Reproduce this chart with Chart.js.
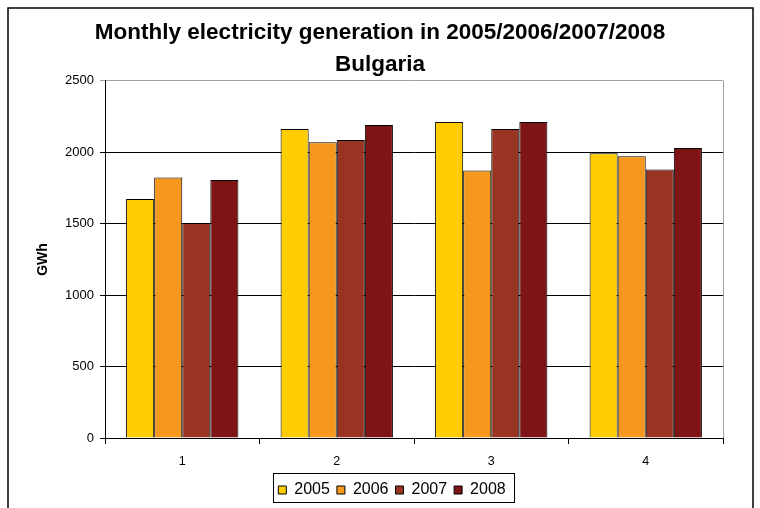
<!DOCTYPE html>
<html>
<head>
<meta charset="utf-8">
<script src="https://cdn.jsdelivr.net/npm/chart.js@4"></script>
<style>
  html, body { margin: 0; padding: 0; background: #fff; }
  #wrap { width: 760px; height: 508px; }
</style>
</head>
<body>
<div id="wrap"><canvas id="myChart" width="760" height="508"></canvas></div>
<script>
const months = ['1', '2', '3', '4'];
const gen2005 = [1674, 2164, 2213, 1994];
const gen2006 = [1823, 2071, 1872, 1973];
const gen2007 = [1506, 2087, 2164, 1879];
const gen2008 = [1807, 2192, 2213, 2031];

const FONT = 'Liberation Sans, Arial, sans-serif';

const frame = {
  id: 'frame',
  afterLayout(chart) {
    // legend box sits a bit right of centre in the original
    chart.legend.left += 12;
    chart.legend.right += 12;
  },
  beforeDraw(chart) {
    const c = chart.ctx;
    c.save();
    c.fillStyle = '#fff';
    c.fillRect(0, 0, chart.width, chart.height);
    c.strokeStyle = '#000';
    c.lineWidth = 1.5;
    c.strokeRect(8, 8, 745, 520);
    c.restore();
  },
  beforeDatasetsDraw(chart) {
    const a = chart.chartArea;
    const c = chart.ctx;
    c.save();
    c.strokeStyle = '#a0a0a0';
    c.lineWidth = 1;
    c.beginPath();
    c.moveTo(Math.round(a.right) + 0.5, a.top);
    c.lineTo(Math.round(a.right) + 0.5, a.bottom);
    c.stroke();
    c.restore();
  },
  afterDraw(chart) {
    const boxes = chart.legend.legendHitBoxes;
    if (!boxes || !boxes.length) return;
    const l = Math.min(...boxes.map(b => b.left));
    const r = Math.max(...boxes.map(b => b.left + b.width));
    const t = Math.min(...boxes.map(b => b.top));
    const b2 = Math.max(...boxes.map(b => b.top + b.height));
    const c = chart.ctx;
    c.save();
    c.strokeStyle = '#000';
    c.lineWidth = 1;
    const x0 = Math.round(l - 5) + 0.5, y0 = Math.round(t - 9) + 0.5;
    const x1 = Math.round(r + 8) + 0.5, y1 = Math.round(b2 + 4) + 0.5;
    c.strokeRect(x0, y0, x1 - x0, y1 - y0);
    c.restore();
  }
};

new Chart(document.getElementById('myChart'), {
  type: 'bar',
  data: {
    labels: months,
    datasets: [
      { label: '2005', data: gen2005, backgroundColor: '#FFCC00' },
      { label: '2006', data: gen2006, backgroundColor: '#F7981E' },
      { label: '2007', data: gen2007, backgroundColor: '#993422' },
      { label: '2008', data: gen2008, backgroundColor: '#7E1416' }
    ]
  },
  options: {
    responsive: false,
    animation: false,
    devicePixelRatio: 1,
    layout: { padding: { top: 0, right: 0, bottom: 0, left: 0 } },
    datasets: {
      bar: {
        borderColor: '#000',
        borderWidth: 1,
        categoryPercentage: 0.727,
        barPercentage: 1.0
      }
    },
    plugins: {
      title: {
        display: true,
        text: ['Monthly electricity generation in 2005/2006/2007/2008', 'Bulgaria'],
        color: '#000',
        font: { family: FONT, size: 22.5, weight: 'bold', lineHeight: 1.42 },
        padding: { top: 17, bottom: 0 }
      },
      legend: {
        position: 'bottom',
        labels: {
          color: '#000',
          boxWidth: 8,
          boxHeight: 8,
          padding: 7,
          font: { family: FONT, size: 16 }
        }
      },
      tooltip: { enabled: false }
    },
    scales: {
      x: {
        afterFit(scale) { scale.height = 37; },
        grid: {
          drawOnChartArea: false,
          drawTicks: true,
          tickLength: 6,
          color: '#000'
        },
        border: { color: '#000' },
        ticks: {
          color: '#000',
          padding: 10,
          font: { family: FONT, size: 12.5 }
        }
      },
      y: {
        min: 0,
        max: 2500,
        afterFit(scale) { scale.width = 105; },
        ticks: {
          stepSize: 500,
          color: '#000',
          padding: 6,
          font: { family: FONT, size: 13 },
          callback: v => String(v)
        },
        grid: {
          tickLength: 5,
          color: ctx => (ctx.tick && ctx.tick.value === 2500 ? '#a0a0a0' : '#000')
        },
        border: { color: '#000' },
        title: {
          display: true,
          text: 'GWh',
          color: '#000',
          font: { family: FONT, size: 14, weight: 'bold' },
          padding: { top: 35, bottom: 0 }
        }
      },
      y2: {
        position: 'right',
        afterFit(scale) { scale.width = 37; },
        ticks: { display: false },
        grid: { display: false },
        border: { display: false }
      }
    }
  },
  plugins: [frame]
});
</script>
</body>
</html>
